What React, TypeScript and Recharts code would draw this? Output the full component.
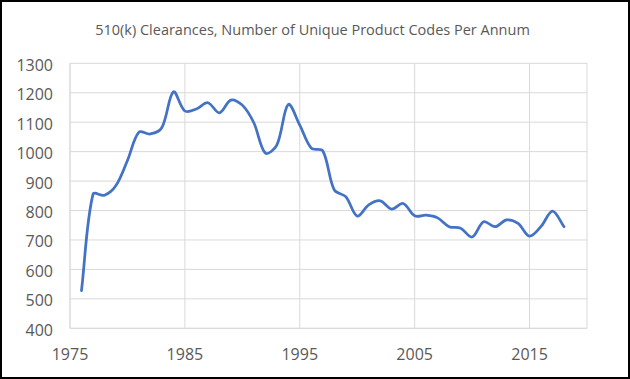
import { LineChart, Line, XAxis, YAxis, CartesianGrid } from "recharts";

const years = [
  1976, 1977, 1978, 1979, 1980, 1981, 1982, 1983, 1984, 1985,
  1986, 1987, 1988, 1989, 1990, 1991, 1992, 1993, 1994, 1995,
  1996, 1997, 1998, 1999, 2000, 2001, 2002, 2003, 2004, 2005,
  2006, 2007, 2008, 2009, 2010, 2011, 2012, 2013, 2014, 2015,
  2016, 2017, 2018,
];

const productCodes = [
  528, 855, 852, 885, 970, 1066, 1060, 1082, 1203, 1138,
  1145, 1166, 1132, 1175, 1158, 1098, 995, 1022, 1160, 1090,
  1012, 1003, 870, 847, 781, 819, 833, 805, 824, 782,
  784, 775, 745, 740, 710, 762, 745, 768, 756, 713,
  746, 798, 745,
];

const xTicks = [1975, 1985, 1995, 2005, 2015];
const yTicks = [400, 500, 600, 700, 800, 900, 1000, 1100, 1200, 1300];

const title = "510(k) Clearances, Number of Unique Product Codes Per Annum";

const data = years.map((year, i) => ({ year, codes: productCodes[i] }));

const textColor = "#595959";
const gridColor = "#d9d9d9";
const font = "'Open Sans', sans-serif";

// smoothing close to Excel's: tangent split by neighbouring segment lengths,
// so a short segment after a long one doesn't overshoot much
const excelSmooth = (context: any) => {
  let pts: number[][] = [];
  return {
    areaStart() {},
    areaEnd() {},
    lineStart() {
      pts = [];
    },
    point(x: number, y: number) {
      pts.push([+x, +y]);
    },
    lineEnd() {
      const n = pts.length;
      if (!n) return;
      const dist = (a: number[], b: number[]) => Math.hypot(b[0] - a[0], b[1] - a[1]);
      // out / in control offsets at every point
      const outC: number[][] = [];
      const inC: number[][] = [];
      for (let i = 0; i < n; i++) {
        const p0 = pts[i - 1] || pts[i];
        const p1 = pts[i];
        const p2 = pts[i + 1] || pts[i];
        const d01 = dist(p0, p1);
        const d12 = dist(p1, p2);
        const tot = d01 + d12 || 1;
        const tx = p2[0] - p0[0];
        const ty = p2[1] - p0[1];
        const fo = (d12 / tot) / 3;
        const fi = (d01 / tot) / 3;
        outC.push([p1[0] + tx * fo, p1[1] + ty * fo]);
        inC.push([p1[0] - tx * fi, p1[1] - ty * fi]);
      }
      context.moveTo(pts[0][0], pts[0][1]);
      for (let i = 0; i < n - 1; i++) {
        context.bezierCurveTo(
          outC[i][0], outC[i][1],
          inC[i + 1][0], inC[i + 1][1],
          pts[i + 1][0], pts[i + 1][1]
        );
      }
    },
  };
};

const YTick = ({ x, y, payload }: any) => (
  <text x={x} y={y + 7.5} textAnchor="end" fill={textColor} fontSize={16} fontFamily={font}>
    {payload.value}
  </text>
);

const XTick = ({ x, y, payload }: any) => (
  <text x={x} y={y + 31.5} textAnchor="middle" fill={textColor} fontSize={16} fontFamily={font}>
    {payload.value}
  </text>
);

export default function App() {
  return (
    <div
      style={{
        position: "absolute",
        left: 0,
        top: 0,
        width: 630,
        height: 379,
        border: "2px solid #000",
        boxSizing: "border-box",
        background: "#fff",
      }}
    >
      <svg width={626} height={50} style={{ position: "absolute", left: 0, top: 0 }}>
        <text x={310.5} y={33} textAnchor="middle" fill={textColor} fontSize={14.5} fontFamily={font}>
          {title}
        </text>
      </svg>
      <div style={{ position: "absolute", left: 0, top: 0 }}>
        <LineChart
          width={626}
          height={375}
          data={data}
          margin={{ top: 61.3, right: 41, bottom: 18.7, left: 8 }}
        >
          <CartesianGrid stroke={gridColor} strokeWidth={1} />
          <XAxis
            dataKey="year"
            type="number"
            domain={[1975, 2020]}
            ticks={xTicks}
            interval={0}
            height={30}
            tickSize={0}
            tickMargin={0}
            tickLine={false}
            axisLine={{ stroke: gridColor }}
            tick={<XTick />}
          />
          <YAxis
            type="number"
            domain={[400, 1300]}
            ticks={yTicks}
            interval={0}
            width={60}
            tickSize={0}
            tickMargin={17}
            tickLine={false}
            axisLine={{ stroke: gridColor }}
            tick={<YTick />}
          />
          <Line
            dataKey="codes"
            type={excelSmooth as any}
            stroke="#4472C4"
            strokeWidth={2.75}
            strokeLinecap="round"
            dot={false}
            activeDot={false}
            isAnimationActive={false}
          />
        </LineChart>
      </div>
    </div>
  );
}
